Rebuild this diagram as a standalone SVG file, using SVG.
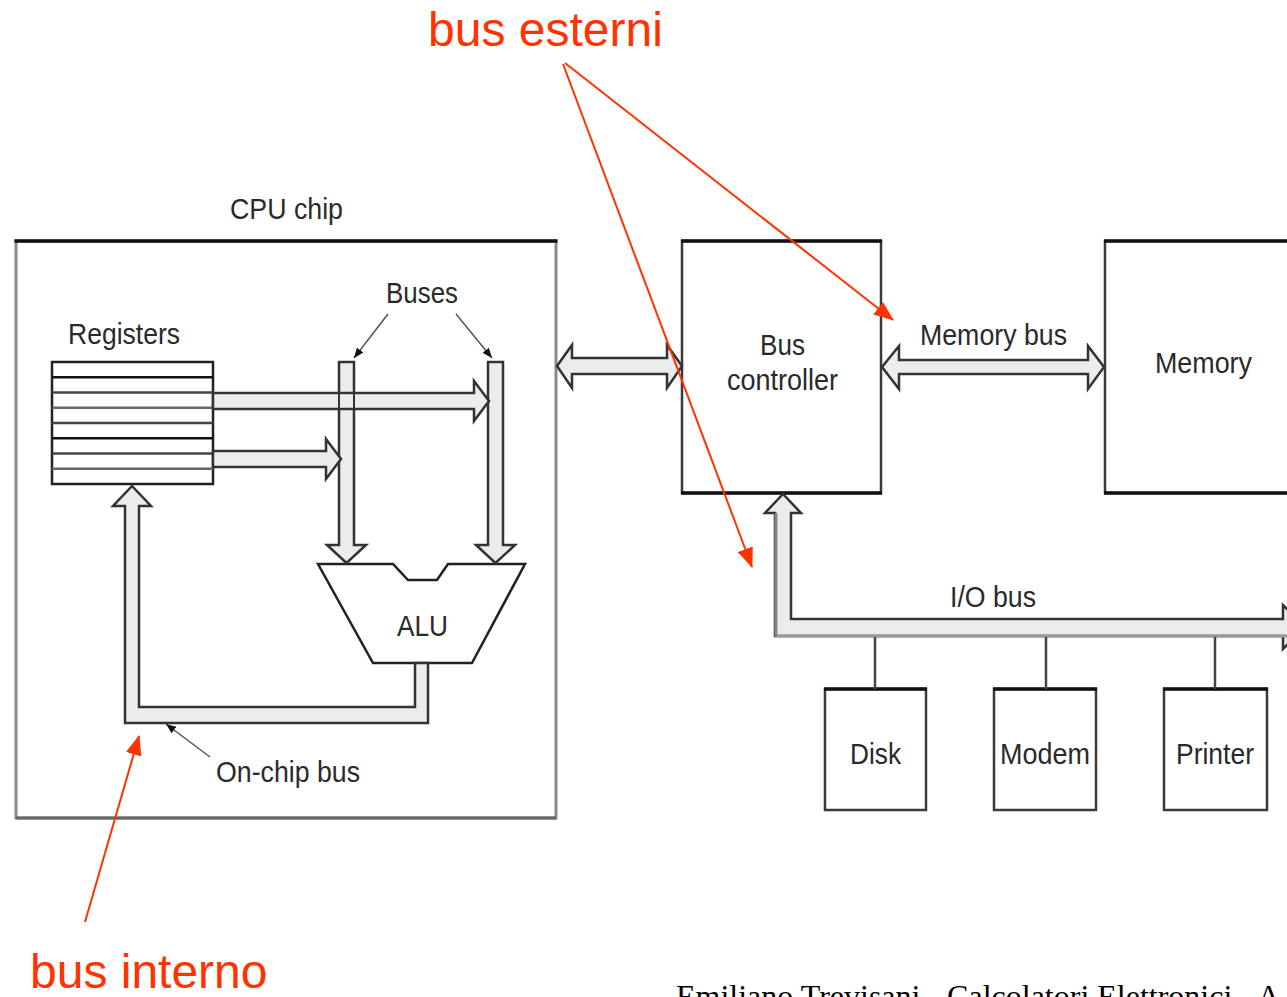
<svg xmlns="http://www.w3.org/2000/svg" width="1287" height="997" viewBox="0 0 1287 997">
<style>
.lbl{font-family:"Liberation Sans",Arial,Helvetica,sans-serif;font-size:30px;fill:#2a2a2a}
.red{font-family:"Liberation Sans",Arial,Helvetica,sans-serif;font-size:48px;fill:#ff3300}
.foot{font-family:"Liberation Serif","Times New Roman",serif;font-size:32px;fill:#000}
.box{fill:#fff;stroke:#3a3a3a;stroke-width:2.5}
.topline{stroke:#111;stroke-width:3.5}
.bus{fill:#ececec;stroke:#333;stroke-width:2.5;stroke-linejoin:miter}
.lead{stroke:#555;stroke-width:1.5;fill:none}
.redln{stroke:#ff3300;stroke-width:2;fill:none}
.conn{stroke:#444;stroke-width:2.5}
</style>
<defs>
<marker id="redhead" markerUnits="userSpaceOnUse" markerWidth="20" markerHeight="16" refX="19" refY="8" orient="auto">
<path d="M0,0 L20,8 L0,16 Z" fill="#ff3300"/>
</marker>
<marker id="blkhead" markerUnits="userSpaceOnUse" markerWidth="10" markerHeight="8" refX="10" refY="4" orient="auto">
<path d="M0,0 L10,4 L0,8 Z" fill="#111"/>
</marker>
</defs>
<rect width="1287" height="997" fill="#fff"/>

<g id="cpu-chip">
<rect x="16" y="241" width="540" height="577" fill="#fff" stroke="#8a8a8a" stroke-width="3"/>
<line x1="16" y1="818" x2="556" y2="818" stroke="#666" stroke-width="3"/>
<line x1="14.5" y1="241" x2="557.5" y2="241" class="topline"/>
<text class="lbl" x="230" y="219" textLength="113" lengthAdjust="spacingAndGlyphs">CPU chip</text>
</g>

<g id="registers">
<rect x="52" y="362" width="161" height="122" fill="#fff" stroke="#222" stroke-width="2.5"/>
<g stroke-width="2.5">
<line x1="52" y1="377.2" x2="213" y2="377.2" stroke="#111"/>
<line x1="52" y1="392.5" x2="213" y2="392.5" stroke="#444"/>
<line x1="52" y1="407.7" x2="213" y2="407.7" stroke="#666"/>
<line x1="52" y1="423" x2="213" y2="423" stroke="#444"/>
<line x1="52" y1="438.2" x2="213" y2="438.2" stroke="#111"/>
<line x1="52" y1="453.5" x2="213" y2="453.5" stroke="#444"/>
<line x1="52" y1="468.7" x2="213" y2="468.7" stroke="#666"/>
</g>
<text class="lbl" x="68" y="344" textLength="112" lengthAdjust="spacingAndGlyphs">Registers</text>
</g>

<g id="alu">
<path d="M318,564 L393,564 L408,580 L437,580 L448,564 L525,564 L472,663 L373,663 Z" fill="#fff" stroke="#222" stroke-width="2.5"/>
<text class="lbl" x="397" y="636" textLength="51" lengthAdjust="spacingAndGlyphs">ALU</text>
</g>

<g id="bus-controller">
<rect x="682" y="241" width="199" height="252" class="box"/>
<line x1="681" y1="241" x2="882" y2="241" class="topline"/>
<line x1="681" y1="493" x2="882" y2="493" class="topline"/>
<text class="lbl" x="760" y="355" textLength="45" lengthAdjust="spacingAndGlyphs">Bus</text>
<text class="lbl" x="727" y="390" textLength="111" lengthAdjust="spacingAndGlyphs">controller</text>
</g>

<g id="memory">
<rect x="1105" y="241" width="200" height="252" class="box"/>
<line x1="1104" y1="241" x2="1287" y2="241" class="topline"/>
<line x1="1104" y1="493" x2="1287" y2="493" class="topline"/>
<text class="lbl" x="1155" y="373" textLength="97" lengthAdjust="spacingAndGlyphs">Memory</text>
</g>

<g id="disk">
<rect x="825" y="689" width="101" height="121" class="box"/>
<line x1="824" y1="689" x2="927" y2="689" class="topline"/>
<text class="lbl" x="850" y="764" textLength="51" lengthAdjust="spacingAndGlyphs">Disk</text>
</g>

<g id="modem">
<rect x="994" y="689" width="102" height="121" class="box"/>
<line x1="993" y1="689" x2="1097" y2="689" class="topline"/>
<text class="lbl" x="1000" y="764" textLength="90" lengthAdjust="spacingAndGlyphs">Modem</text>
</g>

<g id="printer">
<rect x="1164" y="689" width="103" height="121" class="box"/>
<line x1="1163" y1="689" x2="1268" y2="689" class="topline"/>
<text class="lbl" x="1176" y="764" textLength="78" lengthAdjust="spacingAndGlyphs">Printer</text>
</g>

<g id="connectors">
<path class="bus" d="M339,362 L354,362 L354,545 L366,545 L346.5,563 L327,545 L339,545 Z"/>
<path class="bus" d="M488,362 L503,362 L503,545 L515,545 L495.5,563 L476,545 L488,545 Z"/>
<path class="bus" d="M213,393 L474,393 L474,381 L489,401 L474,421 L474,409 L213,409 Z"/>
<path class="bus" d="M213,451 L326,451 L326,439 L341,459 L326,479 L326,467 L213,467 Z"/>
<line x1="339" y1="393" x2="339" y2="409" stroke="#333" stroke-width="2"/>
<line x1="354" y1="393" x2="354" y2="409" stroke="#333" stroke-width="2"/>
<path class="bus" d="M415,663 L415,707 L139,707 L139,506 L151,506 L132,486 L113,506 L125,506 L125,723 L428,723 L428,663 Z"/>
<path class="bus" d="M557,366 L572,345 L572,358 L667,358 L667,345 L682,366 L667,388 L667,374 L572,374 L572,388 Z"/>
<path class="bus" d="M882,367 L899,346 L899,360 L1088,360 L1088,346 L1104,367 L1088,389 L1088,374 L899,374 L899,389 Z"/>
<path class="bus" d="M791,513 L801,513 L783,494 L765,513 L775,513 L775,636 L1283,636 L1283,649 L1305,627 L1283,605 L1283,619 L791,619 Z"/>
<line x1="775" y1="636" x2="1287" y2="636" stroke="#999" stroke-width="3"/>
<line x1="776" y1="513" x2="776" y2="636" stroke="#888" stroke-width="3"/>
<line x1="875" y1="637" x2="875" y2="689" class="conn"/>
<line x1="1046" y1="637" x2="1046" y2="689" class="conn"/>
<line x1="1215" y1="637" x2="1215" y2="689" class="conn"/>
<line x1="388" y1="314" x2="354" y2="358" class="lead" marker-end="url(#blkhead)"/>
<line x1="456" y1="314" x2="492" y2="358" class="lead" marker-end="url(#blkhead)"/>
<line x1="210" y1="757" x2="166" y2="724" class="lead" marker-end="url(#blkhead)"/>
<line x1="565" y1="63" x2="893" y2="320" class="redln" marker-end="url(#redhead)"/>
<line x1="563" y1="64" x2="752" y2="567" class="redln" marker-end="url(#redhead)"/>
<line x1="85" y1="922" x2="139" y2="736" class="redln" marker-end="url(#redhead)"/>
</g>

<g id="labels">
<text class="lbl" x="386" y="303" textLength="72" lengthAdjust="spacingAndGlyphs">Buses</text>
<text class="lbl" x="216" y="782" textLength="144" lengthAdjust="spacingAndGlyphs">On-chip bus</text>
<text class="lbl" x="920" y="345" textLength="147" lengthAdjust="spacingAndGlyphs">Memory bus</text>
<text class="lbl" x="950" y="607" textLength="86" lengthAdjust="spacingAndGlyphs">I/O bus</text>
<text class="red" x="428" y="46">bus esterni</text>
<text class="red" x="30" y="988">bus interno</text>
<text class="foot" x="676" y="1007">Emiliano Trevisani - Calcolatori Elettronici - A</text>
</g>
</svg>
